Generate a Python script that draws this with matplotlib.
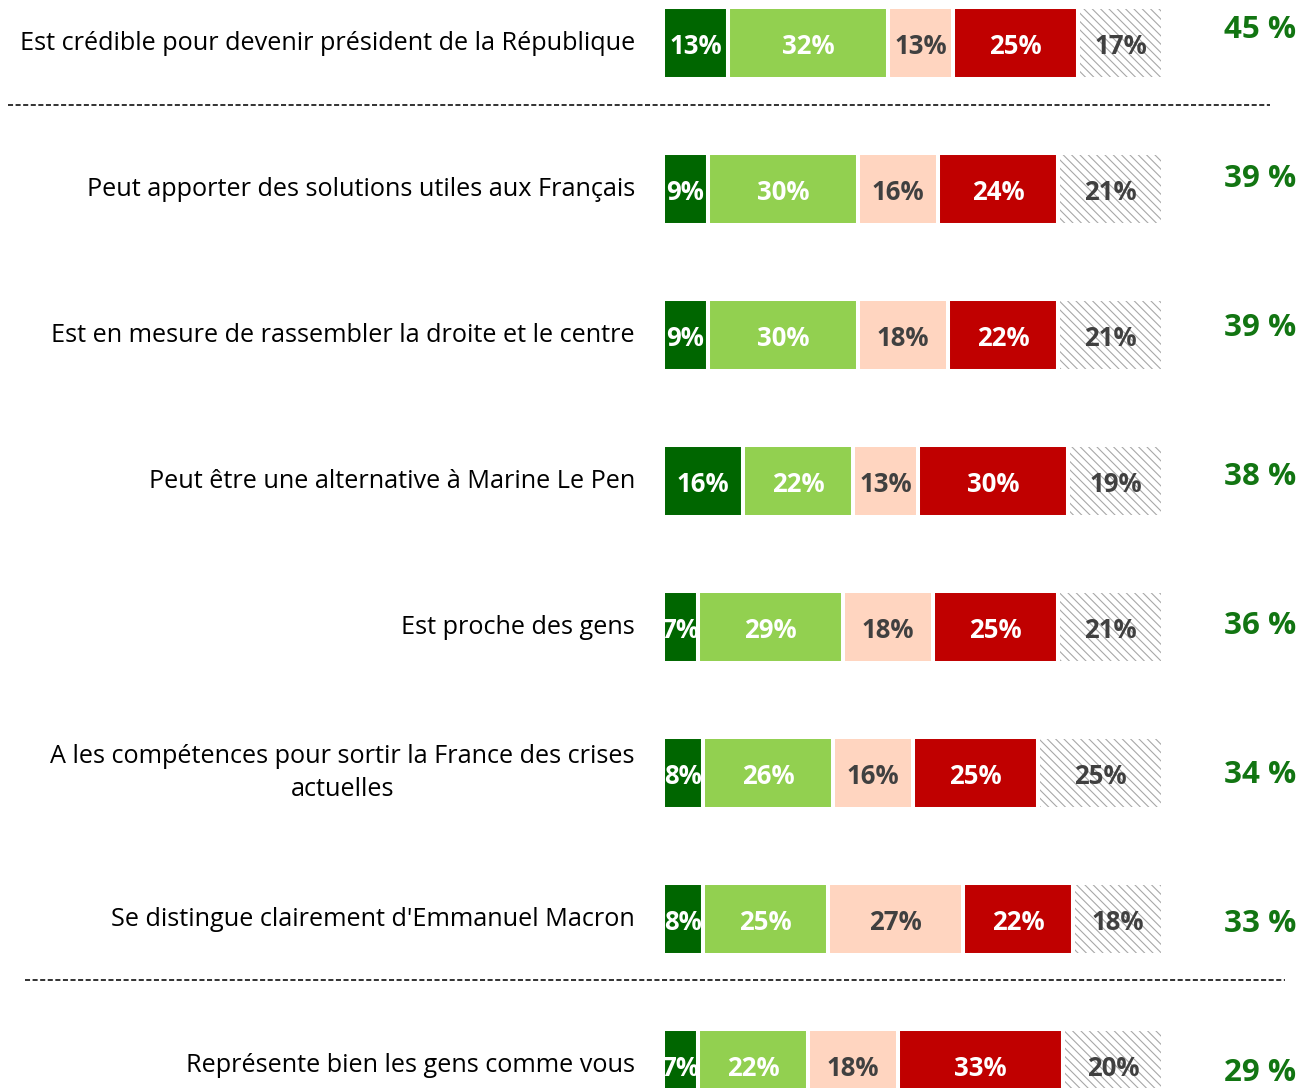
import matplotlib.pyplot as plt
import numpy as np

plt.rcParams["font.family"] = ["Open Sans", "DejaVu Sans"]
plt.rcParams["hatch.linewidth"] = 0.8

labels = [
    "Est crédible pour devenir président de la République",
    "Peut apporter des solutions utiles aux Français",
    "Est en mesure de rassembler la droite et le centre",
    "Peut être une alternative à Marine Le Pen",
    "Est proche des gens",
    "A les compétences pour sortir la France des crises\nactuelles",
    "Se distingue clairement d'Emmanuel Macron",
    "Représente bien les gens comme vous",
]
tout_a_fait = [13, 9, 9, 16, 7, 8, 8, 7]
plutot = [32, 30, 30, 22, 29, 26, 25, 22]
ni_ni = [13, 16, 18, 13, 18, 16, 27, 18]
pas_du_tout = [25, 24, 22, 30, 25, 25, 22, 33]
nsp = [17, 21, 21, 19, 21, 25, 18, 20]
totals = [45, 39, 39, 38, 36, 34, 33, 29]

series = [tout_a_fait, plutot, ni_ni, pas_du_tout, nsp]
colors = ["#006600", "#92D050", "#FFD5C0", "#C00000", "#FFFFFF"]
text_colors = ["white", "white", "#404040", "white", "#404040"]

W, H = 1299, 1088
fig = plt.figure(figsize=(W / 100, H / 100), dpi=100)
ax = fig.add_axes([0, 0, 1, 1])

# pixel layout -> data units
x0_px, px_per_pct = 663, 5.0
row0_px, row_step_px = 43, 146
ax.set_xlim(-x0_px / px_per_pct, (W - x0_px) / px_per_pct)
ax.set_ylim((H - row0_px) / row_step_px, -row0_px / row_step_px)
ax.axis("off")


def px_x(p):
    return (p - x0_px) / px_per_pct


y = np.arange(len(labels))
bar_h = 72 / row_step_px
left = np.zeros(len(labels))
for k, (vals, col, tcol) in enumerate(zip(series, colors, text_colors)):
    vals = np.array(vals, dtype=float)
    if k == 4:
        ax.barh(y, vals, left=left, height=bar_h, color="white",
                edgecolor="#a8a8a8", hatch="\\\\\\\\", linewidth=0, zorder=2)
        ax.barh(y, vals, left=left, height=bar_h, fill=False,
                edgecolor="white", linewidth=2.9, zorder=3)
    else:
        ax.barh(y, vals, left=left, height=bar_h, color=col,
                edgecolor="white", linewidth=2.9, zorder=2)
    for i, v in enumerate(vals):
        ax.text(left[i] + v / 2, y[i] + 0.025, f"{int(v)}%", ha="center", va="center",
                color=tcol, fontsize=18.5, fontweight="bold", zorder=4)
    left += vals

for i, lab in enumerate(labels):
    ax.text(px_x(635), y[i], lab, ha="right", va="center", multialignment="center",
            fontsize=18.2, color="black", linespacing=1.4)

for i, t in enumerate(totals):
    ty = (30 + 149 * i - row0_px) / row_step_px
    ax.text(px_x(1296), ty, f"{t} %", ha="right", va="center",
            fontsize=22.5, fontweight="bold", color="#127512")

# dashed separators
for (xa, xb, yp) in [(8, 1270, 105), (25, 1285, 980)]:
    yy = (yp - row0_px) / row_step_px
    ax.plot([px_x(xa), px_x(xb)], [yy, yy], color="#222222", lw=1.3,
            dashes=(2.8, 1.4), zorder=1)

fig.savefig("out.png", dpi=100)
